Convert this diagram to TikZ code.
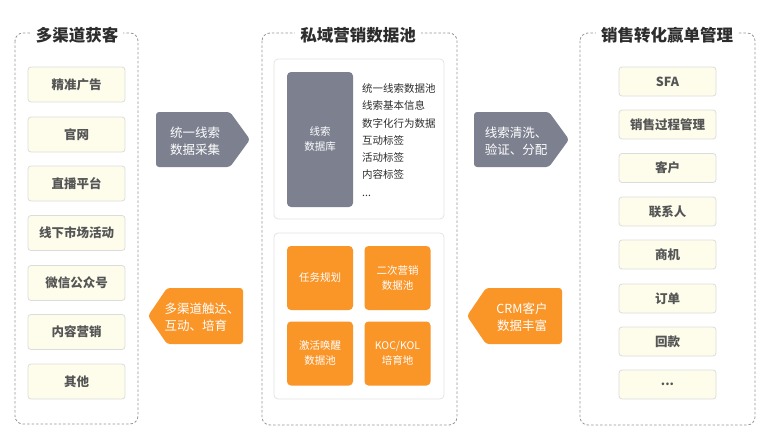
\documentclass[tikz,border=0pt]{standalone}
\usepackage{fontspec}
\setmainfont{Noto Sans CJK SC}
\usetikzlibrary{positioning}

\definecolor{slate}{RGB}{124,128,143}
\definecolor{tangerine}{RGB}{250,149,40}
\definecolor{itemfill}{RGB}{254,253,236}
\definecolor{itemline}{RGB}{220,220,220}
\definecolor{itemtext}{RGB}{85,85,85}
\definecolor{dashgray}{RGB}{150,150,150}
\definecolor{titlegray}{RGB}{45,45,45}
\definecolor{panelline}{RGB}{228,228,228}

\begin{document}
\begin{tikzpicture}[x=1pt,y=-1pt,
    group/.style={draw=dashgray, dash pattern=on 2.5pt off 2pt, rounded corners=8pt, line width=0.8pt},
    grouptitle/.style={fill=white, inner xsep=5pt, inner ysep=2pt, text=titlegray, font=\fontsize{16.5}{18}\selectfont\bfseries},
    panel/.style={draw=panelline, fill=white, rounded corners=4pt, line width=0.8pt},
    channel/.style={draw=itemline, fill=itemfill, rounded corners=3pt, line width=0.8pt, minimum width=97pt, minimum height=35pt, text=itemtext, font=\fontsize{12.5}{14}\selectfont\bfseries},
    stage/.style={channel, minimum height=29pt},
    pool/.style={fill=tangerine, rounded corners=4pt, minimum width=66pt, minimum height=64pt, text=white, align=center, font=\fontsize{10.5}{15}\selectfont},
    flowtext/.style={text=white, align=left, inner sep=0pt, font=\fontsize{12.5}{17}\selectfont}]
        \useasboundingbox (0,0) rectangle (770,444);

        \draw[group] (15,33) rectangle (138,424);
        \node[grouptitle] (srcTitle) at (77,35) {多渠道获客};
        \node[channel] (src1) at (76.5,84.5) {精准广告};
        \node[channel] (src2) at (76.5,134.5) {官网};
        \node[channel] (src3) at (76.5,183.5) {直播平台};
        \node[channel] (src4) at (76.5,233) {线下市场活动};
        \node[channel] (src5) at (76.5,283) {微信公众号};
        \node[channel] (src6) at (76.5,332) {内容营销};
        \node[channel] (src7) at (76.5,381.5) {其他};

        \draw[group] (262,33) rectangle (457,425);
        \node[grouptitle] (poolTitle) at (358,35) {私域营销数据池};
        \draw[panel] (274,59) rectangle (444,219);
        \node[fill=slate, rounded corners=4pt, minimum width=66pt, minimum height=135pt, text=white, align=center, font=\fontsize{10.5}{15}\selectfont] (leadDb) at (320,139.5) {线索\\数据库};
        \node[anchor=west, inner sep=0pt, align=left, text=titlegray, font=\fontsize{10.5}{17.3}\selectfont] (leadTags) at (362,140) {统一线索数据池\\线索基本信息\\数字化行为数据\\互动标签\\活动标签\\内容标签\\...};
        \draw[panel] (274,233) rectangle (444,399);
        \node[pool] (poolA) at (320,278) {任务规划};
        \node[pool] (poolB) at (397.5,278) {二次营销\\数据池};
        \node[pool] (poolC) at (320,353.5) {激活唤醒\\数据池};
        \node[pool] (poolD) at (397.5,353.5) {KOC/KOL\\培育地};

        \draw[group] (580,33) rectangle (755,425);
        \node[grouptitle] (saleTitle) at (667,35) {销售转化赢单管理};
        \node[stage] (sale1) at (667.5,81.5) {SFA};
        \node[stage] (sale2) at (667.5,124.5) {销售过程管理};
        \node[stage] (sale3) at (667.5,168) {客户};
        \node[stage] (sale4) at (667.5,211.5) {联系人};
        \node[stage] (sale5) at (667.5,254.5) {商机};
        \node[stage] (sale6) at (667.5,298.5) {订单};
        \node[stage] (sale7) at (667.5,341.5) {回款};
        \node[stage] (sale8) at (667.5,384.5) {...};

        \fill[slate, rounded corners=3pt] (156,112) -- (230,112) -- (250,139.5) -- (230,167) -- (156,167) -- cycle;
        \node[flowtext] (collect) at (195,141) {统一线索\\数据采集};
        \fill[tangerine, rounded corners=3pt] (243,288) -- (167,288) -- (148,316) -- (167,344) -- (243,344) -- cycle;
        \node[flowtext] (reach) at (202,317) {多渠道触达、\\互动、培育};
        \fill[slate, rounded corners=3pt] (474,112) -- (549,112) -- (569,139.5) -- (549,167) -- (474,167) -- cycle;
        \node[flowtext] (clean) at (516,141) {线索清洗、\\验证、分配};
        \fill[tangerine, rounded corners=3pt] (562,288) -- (486,288) -- (467,316) -- (486,344) -- (562,344) -- cycle;
        \node[flowtext, align=center] (enrich) at (522,317) {CRM客户\\数据丰富};
\end{tikzpicture}
\end{document}
